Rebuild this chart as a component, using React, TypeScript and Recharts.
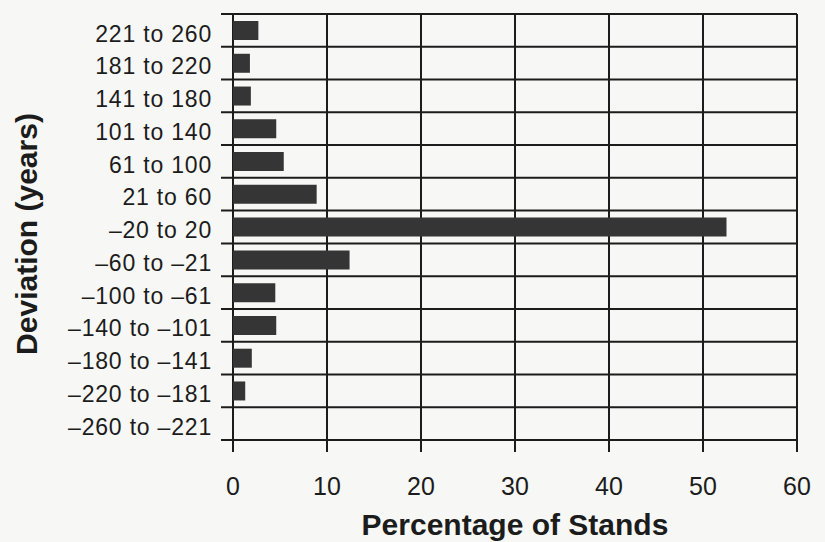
import React from 'react';
import { Bar, BarChart, CartesianGrid, Label, XAxis, YAxis } from 'recharts';

const ranges = [
    '221 to 260',
    '181 to 220',
    '141 to 180',
    '101 to 140',
    '61 to 100',
    '21 to 60',
    '–20 to 20',
    '–60 to –21',
    '–100 to –61',
    '–140 to –101',
    '–180 to –141',
    '–220 to –181',
    '–260 to –221',
];
const percentStands = [2.7, 1.8, 1.9, 4.6, 5.4, 8.9, 52.5, 12.4, 4.5, 4.6, 2.0, 1.3, 0];
const xTicks = [0, 10, 20, 30, 40, 50, 60];

const data = ranges.map((range, i) => ({ range, pct: percentStands[i] }));

const FONT = '"Liberation Sans", Arial, Helvetica, sans-serif';
const INK = '#1c1c1c';

const App: React.FC = () => {
    return (
        <div style={{ position: 'absolute', left: 0, top: 0, width: 825, height: 542, background: '#f7f7f5' }}>
            <BarChart
                width={825}
                height={542}
                data={data}
                layout="vertical"
                margin={{ top: 14, right: 28, left: 15, bottom: 0 }}
                barCategoryGap={0}
            >
                <CartesianGrid
                    x={221}
                    width={576}
                    stroke={INK}
                    strokeWidth={2}
                    horizontalCoordinatesGenerator={({ offset }) =>
                        [...ranges, ''].map((_, i) => offset.top + (i * offset.height) / ranges.length)
                    }
                />
                <XAxis
                    type="number"
                    domain={[0, 60]}
                    ticks={xTicks}
                    axisLine={false}
                    tickLine={{ stroke: INK, strokeWidth: 2 }}
                    tickSize={12}
                    tickMargin={25}
                    height={102}
                    tick={{ fill: INK, fontSize: 25, fontFamily: FONT }}
                    label={{
                        value: 'Percentage of Stands',
                        position: 'insideBottom',
                        offset: 7,
                        fill: INK,
                        fontSize: 30,
                        fontWeight: 'bold',
                        fontFamily: FONT,
                    }}
                />
                <YAxis
                    type="category"
                    dataKey="range"
                    width={218}
                    axisLine={false}
                    tickLine={false}
                    tickSize={12}
                    tickMargin={9}
                    interval={0}
                    tick={{ fill: INK, fontSize: 23, fontFamily: FONT, letterSpacing: 0.8, dy: 3 }}
                >
                    <Label
                        content={({ viewBox }: any) => {
                            const vx = viewBox?.x ?? 15;
                            const vy = viewBox?.y ?? 14;
                            const vh = viewBox?.height ?? 426;
                            return (
                                <text
                                    transform={`translate(${vx + 22}, ${vy + vh / 2 + 7}) rotate(-90)`}
                                    textAnchor="middle"
                                    fill={INK}
                                    fontSize={30}
                                    fontWeight="bold"
                                    fontFamily={FONT}
                                >
                                    Deviation (years)
                                </text>
                            );
                        }}
                    />
                </YAxis>
                <Bar dataKey="pct" fill="#353535" barSize={19} isAnimationActive={false} />
            </BarChart>
        </div>
    );
};

export default App;
